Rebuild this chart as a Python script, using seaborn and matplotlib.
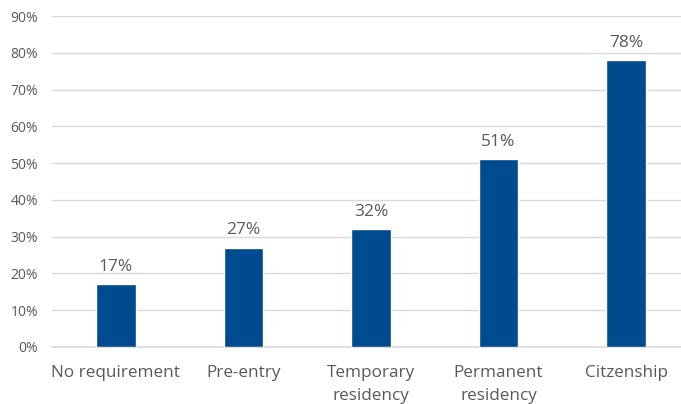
import matplotlib
matplotlib.use('Agg')
import matplotlib.pyplot as plt
import seaborn as sns
import pandas as pd

categories = ['No requirement', 'Pre-entry', 'Temporary\nresidency', 'Permanent\nresidency', 'Citzenship']
values = [17, 27, 32, 51, 78]
y_ticks = [0, 10, 20, 30, 40, 50, 60, 70, 80, 90]

df = pd.DataFrame({'cat': categories, 'val': values})

sns.set_theme(style='white')
plt.rcParams['font.family'] = ['Open Sans', 'DejaVu Sans']

fig = plt.figure(figsize=(6.81, 4.04), dpi=100)
ax = fig.add_axes([52 / 681, 57 / 404, 629 / 681, 331 / 404])

sns.barplot(data=df, x='cat', y='val', color='#004A8F', width=0.31, saturation=1, ax=ax, zorder=3)

for i, v in enumerate(values):
    ax.text(i, v + 2.6, f'{v}%', ha='center', va='bottom', fontsize=12.5, color='#595959')

ax.set_ylim(0, 90)
ax.set_xlim(-0.5, 4.43)
ax.set_yticks(y_ticks)
ax.set_yticklabels([f'{t}%' for t in y_ticks], fontsize=10, color='#595959')
ax.tick_params(axis='x', labelsize=12.3, labelcolor='#595959', length=0, pad=13)
ax.tick_params(axis='y', length=0, pad=10)
ax.grid(axis='y', color='#D9D9D9', linewidth=1, zorder=0)
ax.set_xlabel('')
ax.set_ylabel('')
for s in ['top', 'right', 'left']:
    ax.spines[s].set_visible(False)
ax.spines['bottom'].set_color('#D9D9D9')
for lbl in ax.get_xticklabels():
    lbl.set_linespacing(1.6)

fig.savefig('out.png', dpi=100)
